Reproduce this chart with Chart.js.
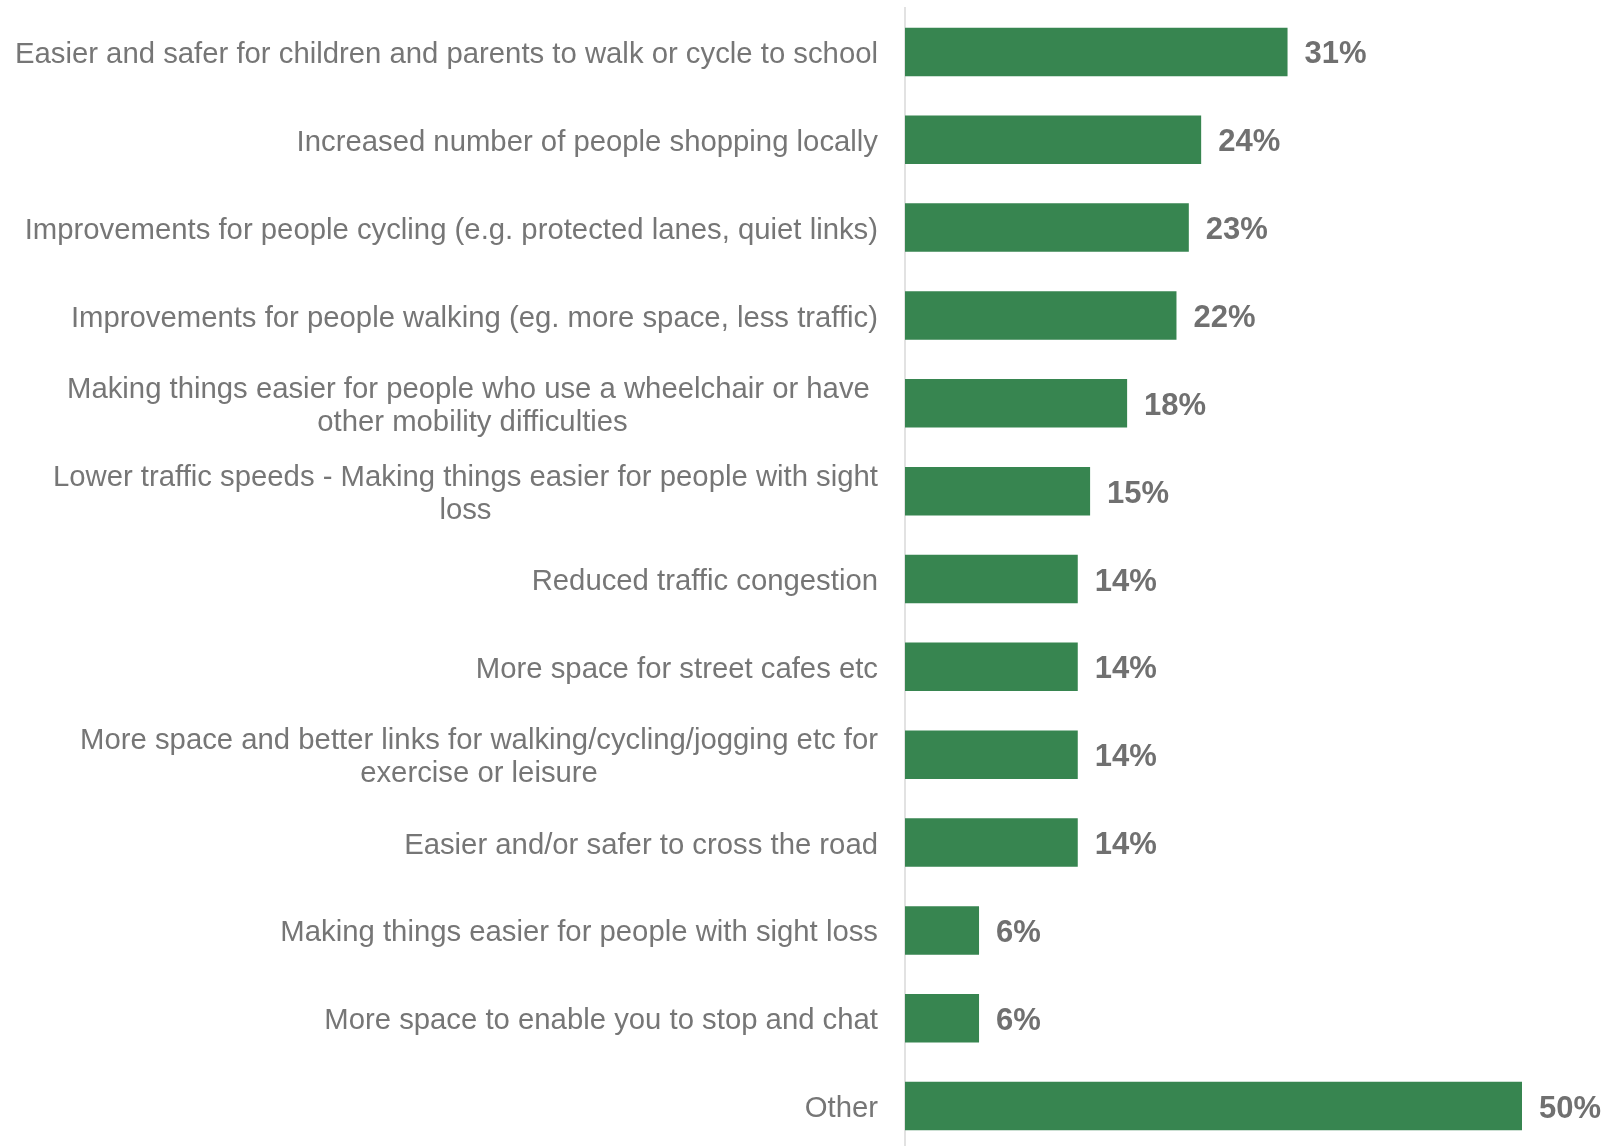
<!DOCTYPE html>
<html>
<head>
<meta charset="utf-8">
<script src="https://cdn.jsdelivr.net/npm/chart.js@4/dist/chart.umd.min.js"></script>
<style>
  html, body { margin: 0; padding: 0; background: #fff; overflow: hidden; }
  canvas { display: block; }
</style>
</head>
<body>
<canvas id="benefitsChart" width="1608" height="1152"></canvas>
<script>
  // answer categories, wrapped the way they appear on the axis
  var categories = [
    ["Easier and safer for children and parents to walk or cycle to school"],
    ["Increased number of people shopping locally"],
    ["Improvements for people cycling (e.g. protected lanes, quiet links)"],
    ["Improvements for people walking (eg. more space, less traffic)"],
    ["Making things easier for people who use a wheelchair or have ", "other mobility difficulties"],
    ["Lower traffic speeds - Making things easier for people with sight", "loss"],
    ["Reduced traffic congestion"],
    ["More space for street cafes etc"],
    ["More space and better links for walking/cycling/jogging etc for", "exercise or leisure"],
    ["Easier and/or safer to cross the road"],
    ["Making things easier for people with sight loss"],
    ["More space to enable you to stop and chat"],
    ["Other"]
  ];
  var percents = [31, 24, 23, 22, 18, 15, 14, 14, 14, 14, 6, 6, 50];

  var textGrey = '#767676';
  var labelFont = '29.3px "Liberation Sans", Arial, sans-serif';
  var valueFont = 'bold 31px "Liberation Sans", Arial, sans-serif';

  // category labels: each block right aligned, wrapped lines centred on each other
  var categoryLabels = {
    id: 'categoryLabels',
    afterDraw: function(chart) {
      var ctx = chart.ctx;
      var y = chart.scales.y;
      var right = chart.chartArea.left - 27;
      ctx.save();
      ctx.font = labelFont;
      ctx.fillStyle = textGrey;
      ctx.textAlign = 'center';
      ctx.textBaseline = 'middle';
      for (var i = 0; i < categories.length; i++) {
        var lines = categories[i];
        var w = 0;
        for (var j = 0; j < lines.length; j++) {
          w = Math.max(w, ctx.measureText(lines[j]).width);
        }
        var cx = right - w / 2;
        var cy = y.getPixelForValue(i) + 3;
        var lh = 33;
        var start = cy - (lines.length - 1) * lh / 2;
        for (var j = 0; j < lines.length; j++) {
          ctx.fillText(lines[j], cx, start + j * lh);
        }
      }
      ctx.restore();
    }
  };

  // percentage next to the end of each bar
  var valueLabels = {
    id: 'valueLabels',
    afterDatasetsDraw: function(chart) {
      var ctx = chart.ctx;
      var meta = chart.getDatasetMeta(0);
      ctx.save();
      ctx.font = valueFont;
      ctx.fillStyle = '#707070';
      ctx.textAlign = 'left';
      ctx.textBaseline = 'middle';
      meta.data.forEach(function(bar, i) {
        ctx.fillText(percents[i] + '%', bar.x + 17, bar.y + 3);
      });
      ctx.restore();
    }
  };

  Chart.defaults.font.family = '"Liberation Sans", Arial, sans-serif';

  var ctx = document.getElementById('benefitsChart').getContext('2d');
  var myChart = new Chart(ctx, {
    type: 'bar',
    data: {
      labels: categories.map(function(l) { return l.join(' '); }),
      datasets: [{
        data: percents,
        backgroundColor: '#378550',
        borderWidth: 0,
        barPercentage: 0.552,
        categoryPercentage: 1
      }]
    },
    options: {
      indexAxis: 'y',
      responsive: false,
      animation: false,
      layout: {
        padding: { top: 8, bottom: 2, left: 0, right: 86 }
      },
      plugins: {
        legend: { display: false },
        tooltip: { enabled: false }
      },
      scales: {
        x: {
          display: false,
          min: 0,
          max: 50
        },
        y: {
          grid: { display: false },
          ticks: { display: false },
          border: { display: true, color: '#e2e2e2', width: 2 },
          afterFit: function(scale) { scale.width = 905; }
        }
      }
    },
    plugins: [categoryLabels, valueLabels]
  });
</script>
</body>
</html>
